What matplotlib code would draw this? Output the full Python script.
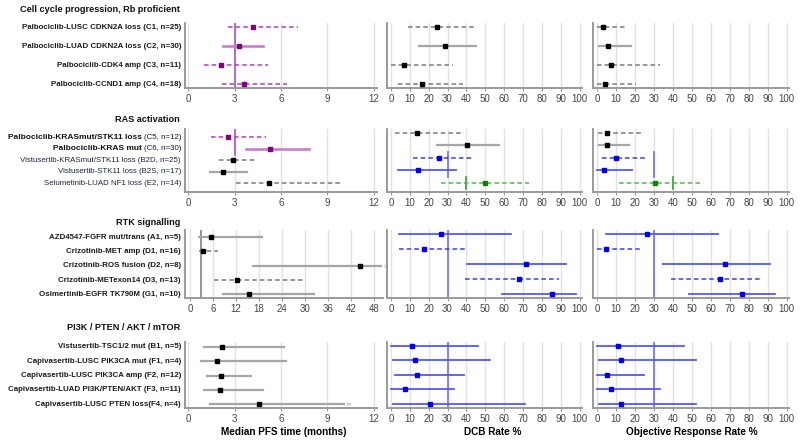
import matplotlib
matplotlib.use('Agg')
import matplotlib.pyplot as plt
from matplotlib import transforms

plt.rcParams['font.family'] = ['Liberation Sans', 'DejaVu Sans']

# ---- data (median PFS months, DCB %, ORR %; estimate, lower, upper) ----
CC_LABELS = ['Palbociclib-LUSC CDKN2A loss (C1, n=25)',
             'Palbociclib-LUAD CDKN2A loss (C2, n=30)',
             'Palbociclib-CDK4 amp (C3, n=11)',
             'Palbociclib-CCND1 amp (C4, n=18)']
CC_PFS    = [4.16, 3.26, 2.10, 3.64]
CC_PFS_LO = [2.60, 2.25, 1.05, 2.19]
CC_PFS_HI = [7.10, 4.86, 5.14, 6.40]
CC_DCB    = [24.2, 28.6, 7.1, 16.2]
CC_DCB_LO = [9.2, 14.8, 0.0, 3.9]
CC_DCB_HI = [45.3, 45.3, 33.0, 38.3]
CC_ORR    = [3.2, 5.8, 7.2, 4.0]
CC_ORR_LO = [0.0, 0.9, 0.0, 0.0]
CC_ORR_HI = [15.8, 18.0, 33.0, 20.8]

RAS_LABELS = ['Palbociclib-KRASmut/STK11 loss (C5, n=12)',
              'Palbociclib-KRAS mut (C6, n=30)',
              'Vistusertib-KRASmut/STK11 loss (B2D, n=25)',
              'Vistusertib-STK11 loss (B2S, n=17)',
              'Selumetinib-LUAD NF1 loss (E2, n=14)']
RAS_PFS    = [2.57, 5.30, 2.90, 2.25, 5.25]
RAS_PFS_LO = [1.50, 3.75, 1.97, 1.44, 3.10]
RAS_PFS_HI = [5.00, 7.82, 4.48, 3.80, 9.90]
RAS_DCB    = [13.6, 40.2, 25.3, 14.5, 49.9]
RAS_DCB_LO = [2.1, 24.4, 11.5, 3.9, 26.5]
RAS_DCB_HI = [38.6, 57.5, 43.7, 34.5, 73.1]
RAS_ORR    = [5.3, 5.5, 10.2, 3.7, 30.6]
RAS_ORR_LO = [0.5, 0.9, 2.6, 0.2, 11.6]
RAS_ORR_HI = [24.6, 16.7, 25.2, 18.7, 55.1]

RTK_LABELS = ['AZD4547-FGFR mut/trans (A1, n=5)',
              'Crizotinib-MET amp (D1, n=16)',
              'Crizotinib-ROS fusion (D2, n=8)',
              'Crizotinib-METexon14 (D3, n=13)',
              'Osimertinib-EGFR TK790M (G1, n=10)']
RTK_PFS    = [5.45, 3.5, 44.4, 12.4, 15.4]
RTK_PFS_LO = [2.4, 2.4, 16.5, 6.3, 8.5]
RTK_PFS_HI = [18.9, 7.2, 50.0, 29.7, 32.4]
RTK_DCB    = [26.6, 17.6, 71.6, 67.7, 85.5]
RTK_DCB_LO = [4.3, 4.3, 40.2, 39.4, 58.9]
RTK_DCB_HI = [63.8, 40.2, 92.9, 89.0, 98.2]
RTK_ORR    = [26.2, 4.9, 67.8, 64.9, 76.3]
RTK_ORR_LO = [4.6, 0.2, 35.0, 38.8, 48.5]
RTK_ORR_HI = [64.0, 23.2, 91.2, 85.9, 93.8]

PI3K_LABELS = ['Vistusertib-TSC1/2 mut (B1, n=5)',
               'Capivasertib-LUSC PIK3CA mut (F1, n=4)',
               'Capivasertib-LUSC PIK3CA amp (F2, n=12)',
               'Capivasertib-LUAD PI3K/PTEN/AKT (F3, n=11)',
               'Capivasertib-LUSC PTEN loss(F4, n=4)']
PI3K_PFS    = [2.18, 1.88, 2.12, 2.05, 4.60]
PI3K_PFS_LO = [1.05, 0.84, 1.21, 1.05, 1.42]
PI3K_PFS_HI = [6.18, 6.30, 4.04, 4.82, 10.05]
PI3K_DCB    = [11.0, 12.9, 13.6, 7.4, 20.7]
PI3K_DCB_LO = [0.0, 1.2, 2.3, 0.0, 1.2]
PI3K_DCB_HI = [46.0, 52.5, 38.5, 33.6, 71.2]
PI3K_ORR    = [10.9, 12.9, 5.1, 7.4, 12.9]
PI3K_ORR_LO = [0.0, 1.2, 0.0, 0.0, 1.2]
PI3K_ORR_HI = [45.9, 52.4, 24.7, 33.5, 52.4]

# ---- styling ----
PAL = {
    'purple': dict(dot='#800080', line='#c77fcc', dash='#b040b8', ref='#b45cc0', lw=1.9),
    'black':  dict(dot='#000000', line='#a6a6a6', dash='#7a7a7a', ref='#8c8c8c', lw=1.6),
    'blue':   dict(dot='#0000f0', line='#5555ff', dash='#3a3aff', ref='#7878ff', lw=1.3),
    'green':  dict(dot='#008a00', line='#5cbf5c', dash='#50b850', ref='#3faa3f', lw=1.3),
}

W, H = 800, 445
COLS = [(185, 377), (387, 582), (593, 789)]
LABEL_FS = 5.7

SECTIONS = [
    dict(title='Cell cycle progression, Rb proficient', title_y=10,
         labels=CC_LABELS, top=23, bottom=88, label_style='bold',
         dashed=[True, False, True, True],
         data=[(CC_PFS, CC_PFS_LO, CC_PFS_HI), (CC_DCB, CC_DCB_LO, CC_DCB_HI),
               (CC_ORR, CC_ORR_LO, CC_ORR_HI)],
         colors=[['purple'] * 4, ['black'] * 4, ['black'] * 4],
         ylims=[(3.2, -0.22), (3.2, -0.2), (3.2, -0.2)],
         refs=[[(3, -0.5, 3.5, 'purple')], [], []],
         pfs_max=12, arrows=[]),
    dict(title='RAS activation', title_y=120,
         labels=RAS_LABELS, top=129, bottom=192,
         label_style=['mixed', 'mixed', 'normal', 'normal', 'normal'],
         dashed=[True, False, True, False, True],
         data=[(RAS_PFS, RAS_PFS_LO, RAS_PFS_HI), (RAS_DCB, RAS_DCB_LO, RAS_DCB_HI),
               (RAS_ORR, RAS_ORR_LO, RAS_ORR_HI)],
         colors=[['purple', 'purple', 'black', 'black', 'black'],
                 ['black', 'black', 'blue', 'blue', 'green'],
                 ['black', 'black', 'blue', 'blue', 'green']],
         ylims=[(4.78, -0.7), (4.74, -0.3), (4.74, -0.3)],
         refs=[[(3, -0.6, 1.6, 'purple')],
               [(30, 1.5, 3.5, 'blue'), (40, 3.5, 4.5, 'green')],
               [(30, 1.5, 3.5, 'blue'), (40, 3.5, 4.5, 'green')]],
         pfs_max=12, arrows=[]),
    dict(title='RTK signalling', title_y=222,
         labels=RTK_LABELS, top=230, bottom=298, label_style='bold',
         dashed=[False, True, False, True, False],
         data=[(RTK_PFS, RTK_PFS_LO, RTK_PFS_HI), (RTK_DCB, RTK_DCB_LO, RTK_DCB_HI),
               (RTK_ORR, RTK_ORR_LO, RTK_ORR_HI)],
         colors=[['black'] * 5, ['blue'] * 5, ['blue'] * 5],
         ylims=[(4.25, -0.5), (4.24, -0.25), (4.24, -0.25)],
         refs=[[(3, -0.6, 4.3, 'black')], [(30, -0.3, 4.3, 'blue')],
               [(30, -0.3, 4.3, 'blue')]],
         pfs_max=48, arrows=[2]),
    dict(title='PI3K / PTEN / AKT / mTOR', title_y=328,
         labels=PI3K_LABELS, top=342, bottom=408, label_style='bold',
         dashed=[False] * 5,
         data=[(PI3K_PFS, PI3K_PFS_LO, PI3K_PFS_HI), (PI3K_DCB, PI3K_DCB_LO, PI3K_DCB_HI),
               (PI3K_ORR, PI3K_ORR_LO, PI3K_ORR_HI)],
         colors=[['black'] * 5, ['blue'] * 5, ['blue'] * 5],
         ylims=[(4.25, -0.32), (4.3, -0.28), (4.3, -0.28)],
         refs=[[], [(30, -0.3, 4.4, 'blue')], [(30, -0.3, 4.4, 'blue')]],
         pfs_max=12, arrows=[4]),
]


def style_axis(ax):
    for s in ['top', 'right']:
        ax.spines[s].set_visible(False)
    for s in ['left', 'bottom']:
        ax.spines[s].set_color('#9a9a9a')
        ax.spines[s].set_linewidth(1.4)
    ax.set_yticks([])
    ax.tick_params(axis='x', labelsize=7, colors='#9a9a9a', length=2, pad=2,
                   labelcolor='#444444')
    ax.grid(axis='x', color='#e2e2e2', lw=1)
    ax.set_axisbelow(True)


def draw_metric(ax, est, lo, hi, dashed, colors):
    for i, (e, l, h) in enumerate(zip(est, lo, hi)):
        c = PAL[colors[i]]
        if dashed[i]:
            ax.plot([l, h], [i, i], color=c['dash'], lw=1.1, ls=(0, (3, 2)), zorder=3)
        else:
            ax.plot([l, h], [i, i], color=c['line'], lw=c['lw'], zorder=3)
        ax.plot(e, i, marker='s', ms=3.0, color=c['dot'], zorder=4)


fig = plt.figure(figsize=(W / 100, H / 100), dpi=100)
renderer = fig.canvas.get_renderer()

for sec in SECTIONS:
    n = len(sec['labels'])
    y0 = 1 - sec['bottom'] / H
    h = (sec['bottom'] - sec['top']) / H
    for ci, (x0, x1) in enumerate(COLS):
        if ci == 0 and sec['pfs_max'] == 48:
            x1 = 383
        ax = fig.add_axes([x0 / W, y0, (x1 - x0) / W, h])
        style_axis(ax)
        est, lo, hi = sec['data'][ci]
        draw_metric(ax, est, lo, hi, sec['dashed'], sec['colors'][ci])
        for xr, ya, yb, col in sec['refs'][ci]:
            ax.plot([xr, xr], [ya, yb], color=PAL[col]['ref'], lw=1.3, zorder=2)
        ax.set_ylim(*sec['ylims'][ci])
        if ci == 0:
            if sec['pfs_max'] == 48:
                ax.set_xlim(-1.3, 50.4)
                ax.set_xticks(range(0, 49, 6))
            else:
                ax.set_xlim(-0.2, 12.2)
                ax.set_xticks(range(0, 13, 3))
            for i in sec['arrows']:
                ax.text(hi[i] + (0.012 * ax.get_xlim()[1]), i, '>>', fontsize=4,
                        color='#777777', va='center', ha='left', clip_on=False)
            # row labels
            tr = transforms.blended_transform_factory(fig.transFigure, ax.transData)
            styles = sec['label_style']
            if isinstance(styles, str):
                styles = [styles] * n
            xl = 181 / W
            for i, lab in enumerate(sec['labels']):
                if styles[i] == 'mixed':
                    head, tail = lab.split(' (')
                    t = fig.text(xl, i, '(' + tail, transform=tr, ha='right',
                                 va='center', fontsize=LABEL_FS, color='#1a1a1a')
                    wpx = t.get_window_extent(renderer=renderer).width
                    fig.text(xl - (wpx + 2) / W, i, head, transform=tr, ha='right',
                             va='center', fontsize=LABEL_FS + 0.3, fontweight='bold',
                             color='#111111')
                else:
                    fig.text(xl, i, lab, transform=tr, ha='right', va='center',
                             fontsize=LABEL_FS,
                             fontweight='bold' if styles[i] == 'bold' else 'normal',
                             color='#1a1a1a' if styles[i] == 'bold' else '#1f2540')
        else:
            ax.set_xlim(-2.1, 101.3)
            ax.set_xticks(range(0, 101, 10))
    fig.text(180 / W, 1 - sec['title_y'] / H, sec['title'], ha='right', va='center',
             fontsize=6.6, fontweight='bold', color='#111111')

fig.text(284 / W, 1 - 432 / H, 'Median PFS time (months)', ha='center', va='center',
         fontsize=7.2, fontweight='bold')
fig.text(493 / W, 1 - 432 / H, 'DCB Rate %', ha='center', va='center',
         fontsize=7.2, fontweight='bold')
fig.text(692 / W, 1 - 432 / H, 'Objective Response Rate %', ha='center', va='center',
         fontsize=7.2, fontweight='bold')

fig.savefig('out.png', dpi=100, facecolor='white')
